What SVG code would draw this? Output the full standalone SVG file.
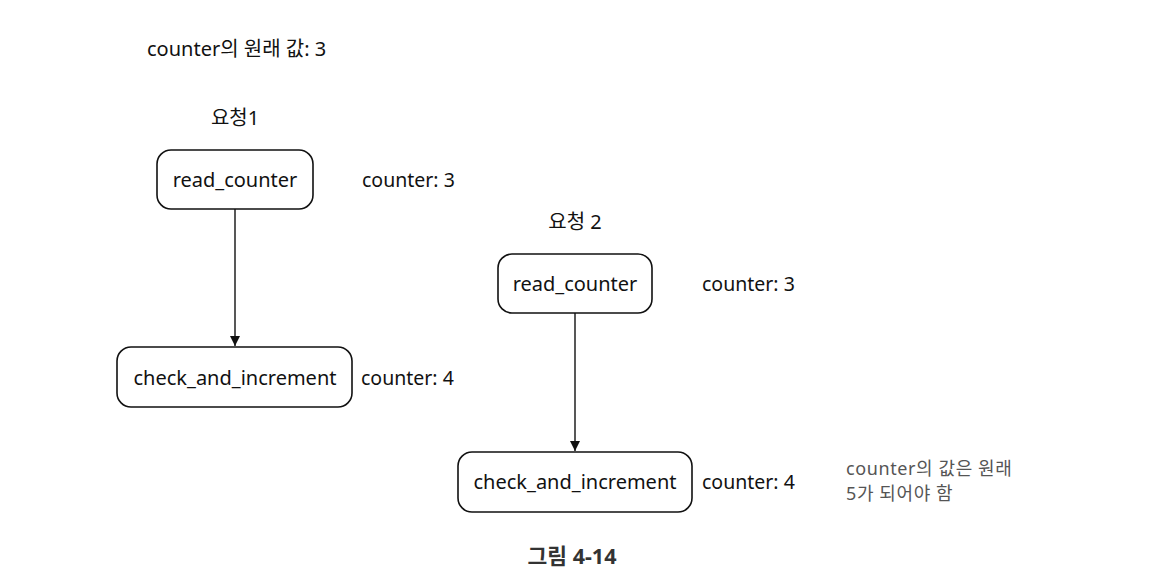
<svg xmlns="http://www.w3.org/2000/svg" width="1174" height="580" viewBox="0 0 1174 580">
<defs>
<style>
text{font-family:"Noto Sans","Noto Sans CJK KR",sans-serif;fill:#111;font-size:20px}
.c{text-anchor:middle}
.box{fill:#fff;stroke:#111;stroke-width:1.6}
.edge{stroke:#111;stroke-width:1.4;fill:none}
.lbl{font-size:19.5px}
.note{fill:#555;font-size:18px;letter-spacing:0.6px}
.cap{font-weight:bold;fill:#333;font-size:21.5px}
</style>
<marker id="ah" viewBox="0 0 10 10" refX="10" refY="5" markerWidth="10" markerHeight="10" markerUnits="userSpaceOnUse" orient="auto">
<path d="M0,0 L10,5 L0,10 z" fill="#111"/>
</marker>
</defs>
<rect width="1174" height="580" fill="#fff"/>
<text x="147" y="56" font-size="18.5">counter의 원래 값: 3</text>
<g id="connectors">
<line class="edge" x1="235" y1="209" x2="235" y2="346" marker-end="url(#ah)"/>
<line class="edge" x1="575" y1="313" x2="575" y2="451" marker-end="url(#ah)"/>
</g>
<g id="req1">
<text class="c" x="235" y="125" font-size="19">요청1</text>
</g>
<g id="read1">
<rect class="box" x="157" y="150" width="156" height="59" rx="14"/>
<text class="c" x="235" y="187" font-size="20.5">read_counter</text>
</g>
<text class="lbl" x="362" y="187">counter: 3</text>
<g id="check1">
<rect class="box" x="117" y="347" width="235" height="60" rx="14"/>
<text class="c" x="235" y="385" font-size="20.5">check_and_increment</text>
</g>
<text class="lbl" x="361" y="385">counter: 4</text>
<g id="req2">
<text class="c" x="575" y="229" font-size="19">요청 2</text>
</g>
<g id="read2">
<rect class="box" x="498" y="254" width="154" height="59" rx="14"/>
<text class="c" x="575" y="291" font-size="20.5">read_counter</text>
</g>
<text class="lbl" x="702" y="291">counter: 3</text>
<g id="check2">
<rect class="box" x="458" y="452" width="234" height="60" rx="14"/>
<text class="c" x="575" y="489" font-size="20.5">check_and_increment</text>
</g>
<text class="lbl" x="702" y="489">counter: 4</text>
<g id="note">
<text class="note" x="846" y="475">counter의 값은 원래</text>
<text class="note" x="846" y="500">5가 되어야 함</text>
</g>
<text class="c cap" x="572" y="564">그림 4-14</text>
</svg>
